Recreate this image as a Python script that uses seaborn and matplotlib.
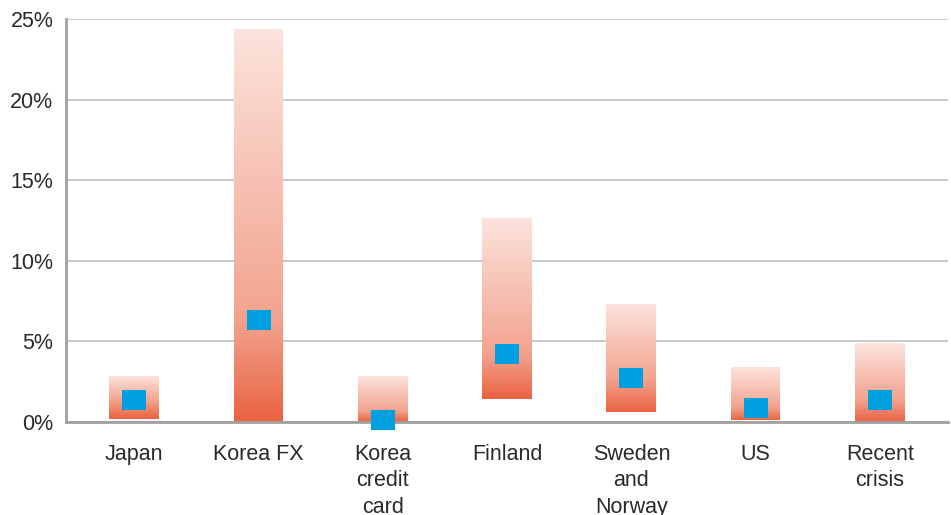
import numpy as np
import pandas as pd
import matplotlib
matplotlib.use("Agg")
import matplotlib.pyplot as plt
from matplotlib.path import Path
import seaborn as sns

# Range of outcomes per episode (% of GDP) and central estimate
episodes = ["Japan", "Korea FX", "Korea\ncredit\ncard", "Finland",
            "Sweden\nand\nNorway", "US", "Recent\ncrisis"]
range_low = [0.2, 0.0, 0.0, 1.45, 0.6, 0.1, 0.0]
range_high = [2.85, 24.4, 2.85, 12.65, 7.35, 3.4, 4.9]
central = [1.35, 6.35, 0.1, 4.2, 2.7, 0.85, 1.35]
y_ticks = [0, 5, 10, 15, 20, 25]
y_tick_labels = ["0%", "5%", "10%", "15%", "20%", "25%"]

sns.set_theme(style="white")
plt.rcParams["font.family"] = ["Liberation Sans", "DejaVu Sans"]

fig = plt.figure(figsize=(9.51, 5.15), dpi=100)
ax = fig.add_axes([0.0694, 0.1806, 0.9276, 0.7825])

dark = np.array([233, 98, 64]) / 255.0
light = np.array([251, 227, 220]) / 255.0

# Each range bar is shaded from dark at its base to pale at its top,
# passing a mid tone at the central estimate.
n_seg = 60
bar_w = 0.40
for i, (lo, hi, mid) in enumerate(zip(range_low, range_high, central)):
    edges = np.linspace(lo, hi, n_seg + 1)
    pivot = max(mid, lo + 0.25 * (hi - lo))
    centers = 0.5 * (edges[:-1] + edges[1:])
    d = np.interp(centers, [lo, pivot, hi], [1.0, 0.5, 0.0])
    for k in range(n_seg):
        col = light + (dark - light) * d[k]
        ax.bar(i, edges[k + 1] - edges[k], bottom=edges[k], width=bar_w,
               color=col, edgecolor="none", linewidth=0, zorder=2)

# Rectangular marker for the central estimate
rect = Path([(-0.6, -0.5), (0.6, -0.5), (0.6, 0.5), (-0.6, 0.5), (-0.6, -0.5)],
            [Path.MOVETO, Path.LINETO, Path.LINETO, Path.LINETO, Path.CLOSEPOLY])
df = pd.DataFrame({"episode": episodes, "central": central})
sns.scatterplot(data=df, x="episode", y="central", marker=rect, s=300,
                color="#009FDF", edgecolor="none", linewidth=0, ax=ax,
                zorder=5, clip_on=False)

ax.set_xlim(-0.55, 6.55)
ax.set_ylim(0, 25)
ax.set_yticks(y_ticks)
ax.set_yticklabels(y_tick_labels)
ax.set_xticks(range(len(episodes)))
ax.set_xticklabels(episodes, linespacing=1.33)
ax.set_xlabel("")
ax.set_ylabel("")

ax.yaxis.grid(True, color="#C8C8C8", linewidth=1.4, zorder=0)
ax.xaxis.grid(False)
ax.set_axisbelow(True)
ax.tick_params(axis="both", length=0, labelsize=15.5, colors="#2A2A2A")
ax.tick_params(axis="y", pad=9)
ax.tick_params(axis="x", pad=16)
for lbl in ax.get_xticklabels():
    lbl.set_verticalalignment("top")

for side in ["top", "right"]:
    ax.spines[side].set_visible(False)
for side in ["left", "bottom"]:
    ax.spines[side].set_color("#A0A0A0")
    ax.spines[side].set_linewidth(2.0)
    ax.spines[side].set_zorder(4)

fig.savefig("out.png", dpi=100)
